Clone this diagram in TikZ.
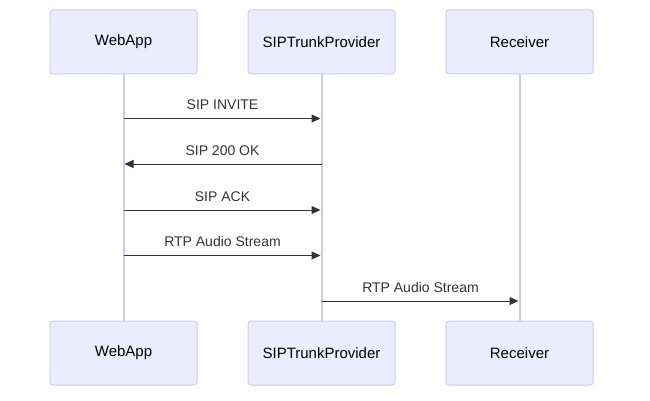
\documentclass[tikz,border=0pt]{standalone}
\usepackage{fontspec}
\setmainfont{Liberation Sans}
\usepackage{xcolor}
\usetikzlibrary{arrows.meta,positioning,calc}

\definecolor{actorfill}{HTML}{ECECFF}
\definecolor{actorline}{HTML}{D2C8F6}
\definecolor{msgline}{HTML}{333333}

\begin{document}
\begin{tikzpicture}
[x = 1pt, y = -1pt,
 actor/.style = {draw = actorline, fill = actorfill, line width = 1pt,
                 rounded corners = 3pt, minimum width = 147pt,
                 minimum height = 64pt, text = black,
                 font = \fontsize{15}{18}\selectfont},
 life/.style = {draw = actorline, line width = 2pt},
 msg/.style = {draw = msgline, line width = 1pt, shorten > = 1pt,
               -{Triangle[length = 9pt, width = 8pt]}},
 msgtext/.style = {above = 5pt, text = msgline,
                   font = \fontsize{14}{17}\selectfont}]

\useasboundingbox (0,0) rectangle (650,401);

% actors at the top
\node[actor] (WA) at (123.5,42) {WebApp};
\node[actor, right = 50pt of WA] (SP) {SIPTrunkProvider};
\node[actor, right = 50pt of SP] (RC) {Receiver};

% actors at the bottom
\node[actor] (WAb) at (123.5,353) {WebApp};
\node[actor, right = 50pt of WAb] (SPb) {SIPTrunkProvider};
\node[actor, right = 50pt of SPb] (RCb) {Receiver};

% lifelines
\draw[life] (WA) -- (WAb);
\draw[life] (SP) -- (SPb);
\draw[life] (RC) -- (RCb);

% messages
\foreach \y/\from/\to/\txt in {118.5/WA/SP/SIP INVITE,
                               164/SP/WA/SIP 200 OK,
                               210/WA/SP/SIP ACK,
                               255.5/WA/SP/RTP Audio Stream,
                               301/SP/RC/RTP Audio Stream}
{
  \draw[msg] (\from.south |- 0,\y) -- node[msgtext] {\txt} (\to.south |- 0,\y);
}

\end{tikzpicture}
\end{document}
